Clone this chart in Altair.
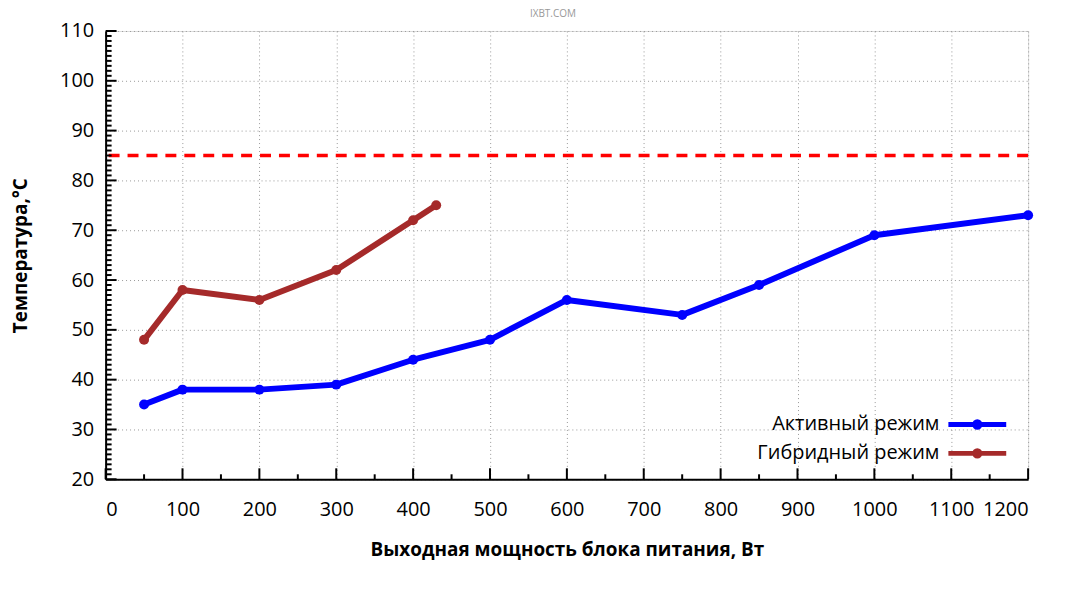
import altair as alt
import pandas as pd

# ---- data ----
active_x = [50, 100, 200, 300, 400, 500, 600, 750, 850, 1000, 1200]
active_y = [35, 38, 38, 39, 44, 48, 56, 53, 59, 69, 73]
hybrid_x = [50, 100, 200, 300, 400, 430]
hybrid_y = [48, 58, 56, 62, 72, 75]
series_names = ["Активный режим", "Гибридный режим"]
series_colors = ["#0000ff", "#a52a2a"]
limit_temp = [85]
x_ticks = list(range(0, 1201, 100))
x_minor = list(range(50, 1201, 100))
y_ticks = list(range(20, 111, 10))
y_minor = [v for v in range(20, 111) if v % 10 != 0]

rows = []
for x, y in zip(active_x, active_y):
    rows.append({"power": x, "temp": y, "series": series_names[0]})
for x, y in zip(hybrid_x, hybrid_y):
    rows.append({"power": x, "temp": y, "series": series_names[1]})
df = pd.DataFrame(rows)
limit_df = pd.DataFrame({"limit": limit_temp})

W, H = 926, 450
FONT = "Open Sans"
xs = alt.Scale(domain=[0, 1200], nice=False, zero=False)
ys = alt.Scale(domain=[20, 110], nice=False, zero=False)

grid_kw = dict(grid=True, gridDash=[1, 3], gridColor="#999999", gridWidth=1)

x_axis = alt.Axis(
    values=x_ticks, format="d", title="Выходная мощность блока питания, Вт", ticks=False,
    domainColor="black", domainWidth=2, labelFontSize=20, labelPadding=20,
    labelColor="black", titleColor="black", titleFontSize=19, titleFontWeight="bold",
    titlePadding=22, labelFont=FONT, titleFont=FONT, **grid_kw)
y_axis = alt.Axis(
    values=y_ticks, format="d", title="Температура,°C", ticks=False,
    domainColor="black", domainWidth=2, labelFontSize=20, labelPadding=12,
    labelColor="black", titleColor="black", titleFontSize=19, titleFontWeight="bold",
    titlePadding=29, labelFont=FONT, titleFont=FONT, **grid_kw)

rule = alt.Chart(limit_df).mark_rule(color="#ff0000", strokeWidth=3.5, strokeDash=[11, 8]).encode(
    y=alt.Y("limit:Q", scale=ys, axis=y_axis)
)

lines = alt.Chart(df).mark_line(
    strokeWidth=6, strokeJoin="round",
    point=alt.OverlayMarkDef(size=100, filled=True, opacity=1),
).encode(
    x=alt.X("power:Q", scale=xs, axis=x_axis),
    y=alt.Y("temp:Q", scale=ys, axis=y_axis),
    color=alt.Color("series:N", scale=alt.Scale(domain=series_names, range=series_colors),
                    legend=alt.Legend(
                        title=None, orient="none", legendX=859, legendY=379,
                        symbolType="M-2.15,0H2.15M0.2,0A0.2,0.2,0,1,1,-0.2,0A0.2,0.2,0,1,1,0.2,0",
                        symbolSize=729, symbolStrokeWidth=5, symbolOpacity=1,
                        labelAlign="right", labelOffset=alt.ExprRef("-54"), labelFontSize=20,
                        labelFont=FONT, labelColor="black", rowPadding=0,
                        labelLimit=400)),
)

# inward axis ticks (decoration), positioned through the same scales
def x_tick_marks(vals, length):
    return alt.Chart(pd.DataFrame({"tx": vals})).mark_rule(color="black", strokeWidth=2).encode(
        x=alt.X("tx:Q", scale=xs, axis=x_axis),
        y=alt.value(H), y2=alt.value(H - length),
    )


def y_tick_marks(vals, length):
    return alt.Chart(pd.DataFrame({"ty": vals})).mark_rule(color="black", strokeWidth=2).encode(
        y=alt.Y("ty:Q", scale=ys, axis=y_axis),
        x=alt.value(0), x2=alt.value(length),
    )


chart = alt.layer(
    rule, lines,
    x_tick_marks(x_ticks, 11), x_tick_marks(x_minor, 5),
    y_tick_marks(y_ticks, 11), y_tick_marks(y_minor, 6),
).properties(
    width=W, height=H,
    padding={"left": 98, "top": 22, "right": 30, "bottom": 90},
    autosize=alt.AutoSizeParams(type="none"),
    title=alt.TitleParams("IXBT.COM", fontSize=10, color="#999999", font=FONT,
                          fontWeight="normal", anchor="middle", frame="group",
                          dx=-14, offset=2),
).configure_view(stroke=None).configure(font=FONT)

chart.save("out.html", embed_options={"renderer": "svg", "actions": False})
